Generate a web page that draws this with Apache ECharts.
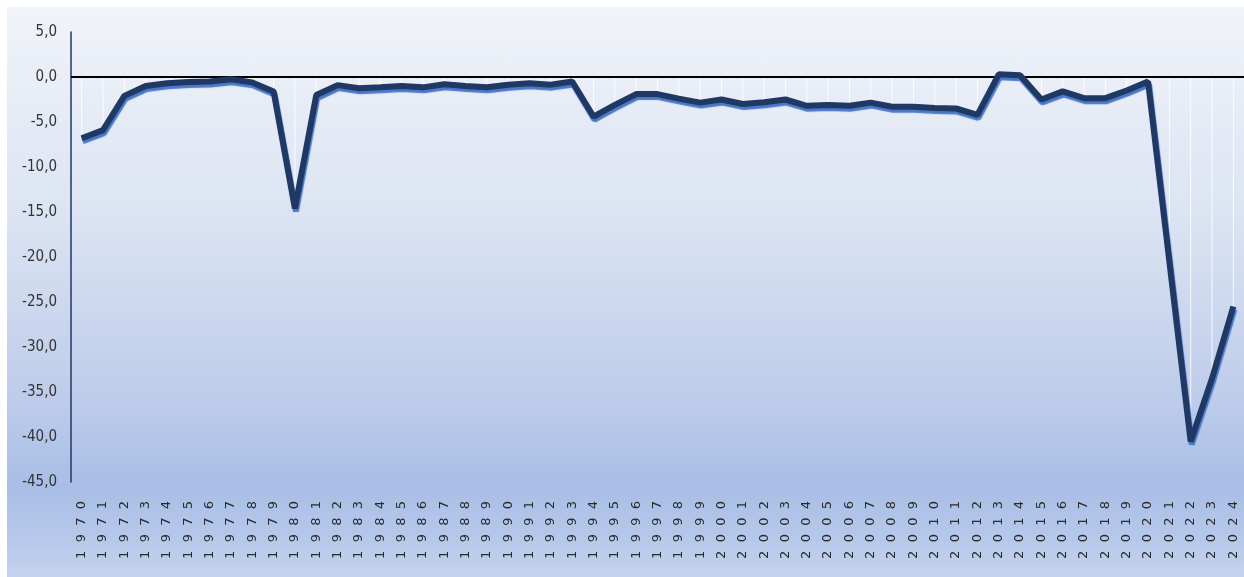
<!DOCTYPE html>
<html>
<head>
<meta charset="utf-8">
<script src="https://cdn.jsdelivr.net/npm/echarts@6/dist/echarts.min.js"></script>
<style>
html,body{margin:0;padding:0;background:#ffffff;}
#bg{position:absolute;left:7px;top:7px;width:1237px;height:570px;
background:linear-gradient(to bottom,#f0f3f9 0%,#dde5f3 35%,#bccbea 70%,#a9bee6 84%,#b4c7ea 92%,#c3d2ee 100%);}
#chart{position:absolute;left:0;top:0;width:1244px;height:577px;}
</style>
</head>
<body>
<div id="bg"></div>
<div id="chart"></div>
<script>
const years = [];
for (let y = 1970; y <= 2024; y++) years.push(String(y));
const values = [
  -6.8, -5.9, -2.1, -1.0, -0.7, -0.55, -0.5, -0.25, -0.6, -1.6,
  -14.6, -2.0, -0.9, -1.25, -1.15, -1.0, -1.15, -0.8, -1.0, -1.15,
  -0.85, -0.7, -0.85, -0.5, -4.4, -3.1, -1.9, -1.9, -2.4, -2.85,
  -2.5, -3.0, -2.8, -2.5, -3.2, -3.1, -3.2, -2.85, -3.3, -3.3,
  -3.45, -3.5, -4.2, 0.3, 0.2, -2.5, -1.6, -2.35, -2.35, -1.5,
  -0.5, -20.5, -40.5, -33.5, -25.5
];
const yMin = -45, yMax = 5, yStep = 5;

const chart = echarts.init(document.getElementById('chart'));
chart.setOption({
  backgroundColor: 'transparent',
  animation: false,
  grid: { left: 71, right: 0, top: 32, bottom: 95 },
  xAxis: {
    type: 'category',
    data: years,
    boundaryGap: true,
    position: 'bottom',
    axisLine: { show: false, onZero: false },
    axisTick: { show: false },
    splitLine: { show: false },
    axisLabel: {
      interval: 0,
      rotate: 90,
      margin: 19,
      overflow: 'none',
      width: 200,
      hideOverlap: false,
      fontFamily: 'DejaVu Sans',
      fontSize: 13,
      color: '#2a2a2a',
      formatter: v => v.split('').join('  ')
    }
  },
  yAxis: {
    type: 'value',
    min: yMin, max: yMax, interval: yStep,
    axisLine: { show: true, lineStyle: { color: '#1f3864', width: 1.5 } },
    axisTick: { show: false },
    splitLine: { show: false },
    axisLabel: {
      margin: 14,
      fontFamily: 'Liberation Sans Narrow, DejaVu Sans Condensed, sans-serif',
      fontSize: 15,
      color: '#333333',
      formatter: v => v.toFixed(1).replace('.', ',')
    }
  },
  series: [
    {
      type: 'bar',
      data: values,
      barWidth: 1,
      silent: true,
      itemStyle: { color: 'rgba(255,255,255,0.85)' },
      z: 1
    },
    {
      type: 'line',
      data: values,
      symbol: 'none',
      z: 3,
      lineStyle: {
        color: '#1f3864',
        width: 6,
        shadowColor: '#4a78c8',
        shadowOffsetX: 1,
        shadowOffsetY: 3,
        shadowBlur: 1
      },
      markLine: {
        silent: true,
        symbol: ['none', 'none'],
        label: { show: false },
        lineStyle: { color: '#000000', width: 2, type: 'solid' },
        data: [{ yAxis: 0 }],
        z: 2
      }
    }
  ]
});
</script>
</body>
</html>
